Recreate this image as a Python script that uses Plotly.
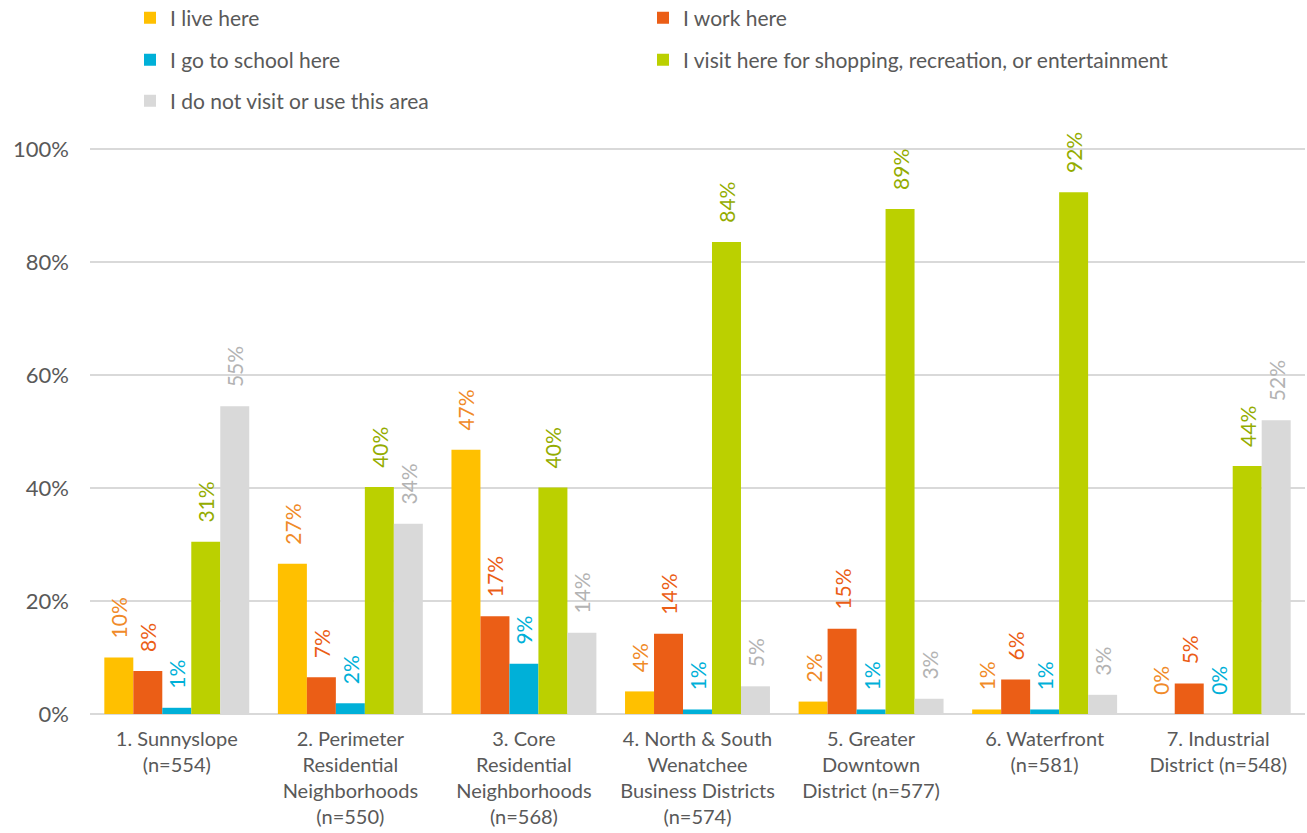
import plotly.graph_objects as go

categories = [
    "1. Sunnyslope<br>(n=554)",
    "2. Perimeter<br>Residential<br>Neighborhoods<br>(n=550)",
    "3. Core<br>Residential<br>Neighborhoods<br>(n=568)",
    "4. North & South<br>Wenatchee<br>Business Districts<br>(n=574)",
    "5. Greater<br>Downtown<br>District (n=577)",
    "6. Waterfront<br>(n=581)",
    "7. Industrial<br>District (n=548)",
]
series_names = [
    "I live here",
    "I work here",
    "I go to school here",
    "I visit here for shopping, recreation, or entertainment",
    "I do not visit or use this area",
]
live = [0.100, 0.266, 0.468, 0.040, 0.022, 0.008, 0.000]
work = [0.076, 0.065, 0.173, 0.142, 0.151, 0.061, 0.054]
school = [0.011, 0.019, 0.089, 0.008, 0.008, 0.008, 0.000]
visit = [0.305, 0.402, 0.401, 0.836, 0.894, 0.924, 0.439]
notuse = [0.545, 0.337, 0.144, 0.049, 0.027, 0.034, 0.520]
tick_vals = [0, 0.2, 0.4, 0.6, 0.8, 1.0]
tick_text = ["0%", "20%", "40%", "60%", "80%", "100%"]

bar_colors = ["#FFC000", "#EB5E16", "#00B0D8", "#BBD000", "#D9D9D9"]
label_colors = ["#F08A28", "#EB5E16", "#00B0D8", "#94AC00", "#B3B3B3"]
legend_ids = ["legend", "legend2", "legend3", "legend4", "legend5"]

W, H = 1307, 833
# legend placement (pixels from top-left of the page): one legend per entry, two columns
legend_pos = [(130, 18), (643, 18), (130, 60), (643, 60), (130, 101)]

fig = go.Figure()
for name, vals, bc, lc, lg in zip(series_names, [live, work, school, visit, notuse],
                                  bar_colors, label_colors, legend_ids):
    fig.add_trace(go.Bar(
        x=categories, y=vals, name=name, legend=lg,
        marker=dict(color=bc, line=dict(width=0)),
        texttemplate="\u00a0\u00a0\u00a0%{y:.0%}", textposition="outside", textangle=-90,
        textfont=dict(color=lc, size=21, family="Lato"),
        cliponaxis=False,
    ))

legend_common = dict(
    orientation="h", xref="container", yref="container",
    xanchor="left", yanchor="middle",
    font=dict(size=21, color="#595959", family="Lato"),
    itemwidth=30, bgcolor="rgba(0,0,0,0)",
)
legends = {
    lg: dict(legend_common, x=px / W, y=1 - py / H)
    for lg, (px, py) in zip(legend_ids, legend_pos)
}

fig.update_layout(
    width=W, height=H,
    margin=dict(l=90, r=2, t=147, b=119, autoexpand=False),
    paper_bgcolor="white", plot_bgcolor="white",
    font=dict(family="Lato", color="#595959"),
    barmode="group", bargap=0.165, bargroupgap=0,
    uniformtext=dict(minsize=21, mode="show"),
    showlegend=True,
    yaxis=dict(
        range=[0, 1.004], tickvals=tick_vals, ticktext=tick_text,
        showgrid=True, gridcolor="#D9D9D9", gridwidth=2,
        zeroline=True, zerolinecolor="#D9D9D9", zerolinewidth=2,
        tickfont=dict(size=22, color="#595959"), ticks="", ticklen=0,
        ticklabelstandoff=20,
        showline=False, automargin=False,
    ),
    xaxis=dict(
        tickfont=dict(size=20, color="#595959"), showline=False, ticks="",
        ticklabelstandoff=11,
        automargin=False,
    ),
    **legends,
)

fig.write_html("out.html", config={"displayModeBar": False},
               post_script="document.body.style.margin='0';")
